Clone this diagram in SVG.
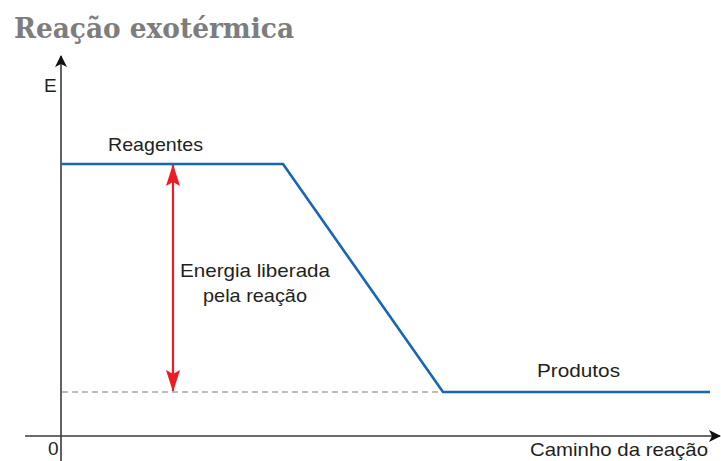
<svg xmlns="http://www.w3.org/2000/svg" width="721" height="461" viewBox="0 0 721 461">
<style>
.lbl{font-family:"Liberation Sans",Arial,sans-serif;font-size:19px;fill:#231f20}
.title{font-family:"DejaVu Serif",serif;font-weight:bold;font-size:27px;fill:#7d7d7d}
.axis{stroke:#3a3a3a;stroke-width:1.6;fill:none}
.curve{stroke:#1766b5;stroke-width:2.6;fill:none;stroke-linejoin:miter}
.dash{stroke:#a8a8a8;stroke-width:1.4;stroke-dasharray:6,4;fill:none}
.red{stroke:#ed1c24;stroke-width:2.2;fill:none}
</style>
<defs>
<marker id="ax" viewBox="0 0 12 12" refX="11" refY="6" markerWidth="12" markerHeight="12" markerUnits="userSpaceOnUse" orient="auto">
<path d="M0,0 L12,6 L0,12 L3,6 Z" fill="#111"/>
</marker>
<marker id="rd" viewBox="0 0 22 14" refX="21" refY="7" markerWidth="22" markerHeight="14" markerUnits="userSpaceOnUse" orient="auto">
<path d="M0,0 L22,7 L0,14 L4,7 Z" fill="#ed1c24"/>
</marker>
</defs>
<rect width="721" height="461" fill="#fff"/>
<text id="title" class="title" x="14" y="38" textLength="280" lengthAdjust="spacingAndGlyphs">Reação exotérmica</text>
<g id="connectors">
<line class="dash" x1="62" y1="392" x2="443" y2="392"/>
<line class="axis" x1="61" y1="461" x2="61" y2="56" marker-end="url(#ax)"/>
<line class="axis" x1="25" y1="436" x2="720" y2="436" marker-end="url(#ax)"/>
<polyline class="curve" points="62,164 283,164 443,392 710,392"/>
<line class="red" x1="173" y1="280" x2="173" y2="165" marker-end="url(#rd)"/>
<line class="red" x1="173" y1="280" x2="173" y2="391" marker-end="url(#rd)"/>
</g>
<g id="labels">
<text class="lbl" x="44" y="92" font-size="18">E</text>
<text class="lbl" x="48" y="455" font-size="18">0</text>
<text class="lbl" x="530" y="456" textLength="178" lengthAdjust="spacingAndGlyphs">Caminho da reação</text>
<text class="lbl" x="108" y="151" textLength="95" lengthAdjust="spacingAndGlyphs">Reagentes</text>
<text class="lbl" x="180" y="277" textLength="150" lengthAdjust="spacingAndGlyphs">Energia liberada</text>
<text class="lbl" x="203" y="302" textLength="104" lengthAdjust="spacingAndGlyphs">pela reação</text>
<text class="lbl" x="537" y="377" textLength="83" lengthAdjust="spacingAndGlyphs">Produtos</text>
</g>
</svg>
